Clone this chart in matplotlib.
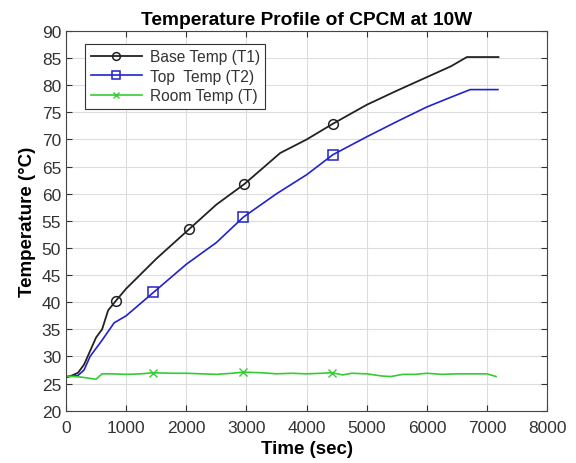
import numpy as np
import matplotlib
matplotlib.use("Agg")
import matplotlib.pyplot as plt

# data
t_base = [0, 100, 200, 300, 400, 500, 600, 700, 832, 1000, 1500, 2050, 2500, 2967, 3300, 3560, 4000, 4437, 5000, 5500, 6000, 6400, 6665, 7190]
T_base = [26.2, 26.5, 27.0, 28.5, 31.0, 33.5, 35.0, 38.5, 40.3, 42.5, 48.0, 53.5, 58.0, 61.8, 65.0, 67.5, 70.0, 72.9, 76.4, 79.0, 81.5, 83.5, 85.2, 85.2]
mark_base = [8, 11, 13, 17]

t_top = [0, 200, 300, 400, 500, 600, 800, 1000, 1453, 2000, 2500, 2950, 3500, 4000, 4437, 5000, 5500, 6000, 6400, 6720, 7180]
T_top = [26.2, 26.5, 27.5, 30.0, 31.5, 33.0, 36.2, 37.5, 41.8, 47.0, 51.0, 55.7, 60.0, 63.5, 67.2, 70.5, 73.3, 76.0, 77.8, 79.2, 79.2]
mark_top = [8, 11, 14]

t_room = [0, 250, 500, 600, 750, 1000, 1250, 1450, 1750, 2000, 2250, 2500, 2750, 2950, 3250, 3500, 3750, 4000, 4250, 4420, 4600, 4750, 5000, 5250, 5400, 5600, 5800, 6000, 6250, 6500, 6750, 7000, 7150]
T_room = [26.4, 26.2, 25.8, 26.8, 26.8, 26.7, 26.8, 27.0, 26.9, 26.9, 26.8, 26.7, 26.9, 27.1, 27.0, 26.8, 26.9, 26.8, 26.9, 27.0, 26.6, 26.9, 26.8, 26.4, 26.3, 26.7, 26.7, 26.9, 26.7, 26.8, 26.8, 26.8, 26.3]
mark_room = [7, 13, 19]

plt.rcParams['font.family'] = ['Liberation Sans', 'DejaVu Sans']

fig = plt.figure(figsize=(5.76, 4.64), dpi=100)
ax = fig.add_axes([0.1146, 0.1127, 0.8354, 0.8183])

ax.plot(t_base, T_base, color='#222222', lw=1.3, marker='o', markevery=mark_base,
        ms=7, mfc='none', mew=1.1, label='Base Temp (T1)')
ax.plot(t_top, T_top, color='#2222cc', lw=1.2, marker='s', markevery=mark_top,
        ms=7, mfc='none', mew=1.1, label='Top  Temp (T2)')
ax.plot(t_room, T_room, color='#33cc33', lw=1.2, marker='x', markevery=mark_room,
        ms=6, mew=1.0, label='Room Temp (T)')

ax.set_xlim(0, 8000)
ax.set_ylim(20, 90)
ax.set_xticks(np.arange(0, 8001, 1000))
ax.set_yticks(np.arange(20, 91, 5))
ax.grid(True, color='#dddddd', lw=0.8)
ax.tick_params(direction='in', top=True, right=True, labelsize=12.5, colors='#333333', length=4)
ax.tick_params(axis='x', pad=7)
for s in ax.spines.values():
    s.set_color('#444444')
    s.set_linewidth(0.8)

ax.set_title('Temperature Profile of CPCM at 10W', fontsize=13.8, fontweight='bold', pad=5)
ax.set_xlabel('Time (sec)', fontsize=13.5, fontweight='bold', labelpad=3)
ax.set_ylabel('Temperature (°C)', fontsize=13.5, fontweight='bold', labelpad=4)

leg = ax.legend(loc='upper left', bbox_to_anchor=(0.04, 0.967), borderaxespad=0,
                fontsize=11.2, fancybox=False, framealpha=1, edgecolor='#333333',
                handlelength=3.3, labelspacing=0.3, borderpad=0.35,
                handletextpad=0.5, markerscale=0.8)
leg.get_frame().set_linewidth(0.8)
for txt in leg.get_texts():
    txt.set_color('#333333')

fig.savefig('out.png', dpi=100)
